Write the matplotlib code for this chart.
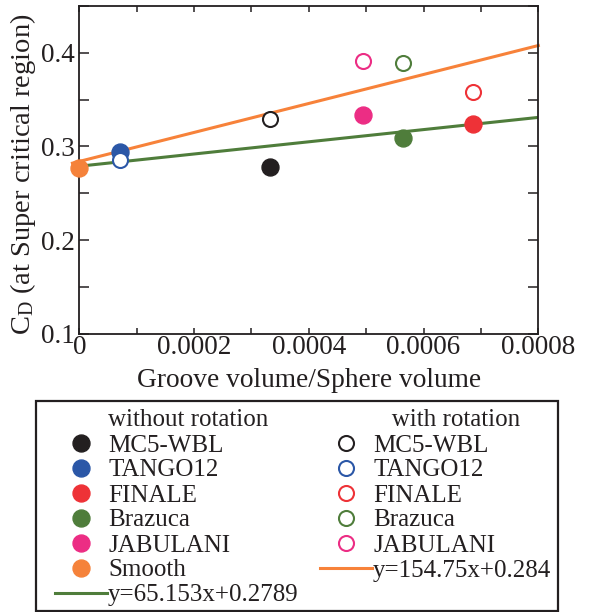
import matplotlib
matplotlib.use("Agg")
import matplotlib.pyplot as plt
from matplotlib.lines import Line2D
from matplotlib.patches import Rectangle
from matplotlib.ticker import MultipleLocator
import numpy as np

plt.rcParams['font.family'] = 'Liberation Serif'
plt.rcParams['mathtext.fontset'] = 'custom'
plt.rcParams['mathtext.rm'] = 'Liberation Serif'
plt.rcParams['mathtext.it'] = 'Liberation Serif:italic'

# ---- data ----
balls = ['MC5-WBL', 'TANGO12', 'FINALE', 'Brazuca', 'JABULANI']
groove_ratio = [0.000332, 0.000071, 0.000687, 0.000564, 0.000495]
cd_without_rotation = [0.278, 0.294, 0.324, 0.309, 0.334]
cd_with_rotation = [0.329, 0.2855, 0.358, 0.389, 0.391]
smooth_ratio = [0.0]
smooth_cd = [0.2766]
fit_without = (65.153, 0.2789)
fit_with = (154.75, 0.284)
x_ticks = [0, 0.0002, 0.0004, 0.0006, 0.0008]
x_ticklabels = ['0', '0.0002', '0.0004', '0.0006', '0.0008']
y_ticks = [0.1, 0.2, 0.3, 0.4]
y_ticklabels = ['0.1', '0.2', '0.3', '0.4']

ball_colors = ['#231f20', '#2b57a7', '#ee3237', '#4f7d3b', '#ec2d84']
smooth_color = '#f5823a'
line_green = '#4f7d3b'
line_orange = '#f7823a'

W, H = 592, 612
fig = plt.figure(figsize=(W / 100, H / 100), dpi=100)
ax = fig.add_axes([79.3 / W, 1 - 333.7 / H, (538.3 - 79.3) / W, (333.7 - 6) / H])

# fit lines
xg = np.array([0.0, 0.0008])
ax.plot(xg, fit_without[0] * xg + fit_without[1], color=line_green, lw=2.2, zorder=2)
xo = np.array([-0.000012, 0.0008])
ax.plot(xo, fit_with[0] * xo + fit_with[1], color=line_orange, lw=2.2, zorder=2, clip_on=False)

# points
for xv, yv, c in zip(groove_ratio, cd_without_rotation, ball_colors):
    ax.plot([xv], [yv], 'o', ms=12.2, color=c, mec=c, zorder=3, clip_on=False)
ax.plot(smooth_ratio, smooth_cd, 'o', ms=12.2, color=smooth_color, mec=smooth_color,
        zorder=3, clip_on=False)
for xv, yv, c in zip(groove_ratio, cd_with_rotation, ball_colors):
    ax.plot([xv], [yv], 'o', ms=10.8, mfc='white', mec=c, mew=1.5, zorder=4, clip_on=False)

ax.set_xlim(0, 0.0008)
ax.set_ylim(0.1, 0.45)
ax.set_xticks(x_ticks)
ax.set_xticklabels(x_ticklabels)
ax.set_yticks(y_ticks)
ax.set_yticklabels(y_ticklabels)
ax.xaxis.set_minor_locator(MultipleLocator(0.0001))
ax.yaxis.set_minor_locator(MultipleLocator(0.05))

ax.tick_params(axis='x', which='both', direction='in', top=True, length=4.5, width=1.1,
               pad=1, labelsize=19.5, colors='#231f20')
ax.tick_params(axis='y', which='both', direction='in', right=True, length=7.2, width=1.1,
               pad=3, labelsize=19.5, colors='#231f20')
for s in ax.spines.values():
    s.set_linewidth(1.3)
    s.set_color('#231f20')

ax.set_xlabel('Groove volume/Sphere volume', fontsize=19.7, color='#231f20')
ax.xaxis.set_label_coords(0.5, -0.1035)
ax.set_ylabel(r'C$_\mathrm{D}$ (at Super critical region)', fontsize=20.5, color='#231f20')
ax.yaxis.set_label_coords(-0.09, 0.486)

# legend
blank = Line2D([], [], linestyle='none', marker=None)
handles = [blank]
labels = ['without rotation']
for c, b in zip(ball_colors, balls):
    handles.append(Line2D([], [], linestyle='none', marker='o', ms=12.2, color=c, mec=c))
    labels.append(b)
handles.append(Line2D([], [], linestyle='none', marker='o', ms=12.2, color=smooth_color,
                      mec=smooth_color))
labels.append('Smooth')
handles.append(Line2D([], [], color=line_green, lw=2.2))
labels.append('y=%g' % fit_without[0] + 'x+%g' % fit_without[1])

handles.append(blank)
labels.append('   with rotation')
for c, b in zip(ball_colors, balls):
    handles.append(Line2D([], [], linestyle='none', marker='o', ms=10.8, mfc='white', mec=c,
                          mew=1.5))
    labels.append(b)
handles.append(Line2D([], [], color=line_orange, lw=2.2))
labels.append('y=%g' % fit_with[0] + 'x+%g' % fit_with[1])

leg = fig.legend(handles, labels, ncol=2, loc='upper left',
                 bbox_to_anchor=(55 / W, 1 - 409 / H), bbox_transform=fig.transFigure,
                 frameon=False, fontsize=18, borderpad=0, borderaxespad=0,
                 handlelength=2.08, handletextpad=0.05, columnspacing=0.84,
                 labelspacing=0.1, labelcolor='#231f20')

fig.patches.append(Rectangle((35.7 / W, 1 - 610.5 / H), (558 - 35.7) / W, (610.5 - 401) / H,
                             transform=fig.transFigure, fill=False, lw=1.6,
                             edgecolor='#231f20'))

fig.savefig('out.png', dpi=100)
